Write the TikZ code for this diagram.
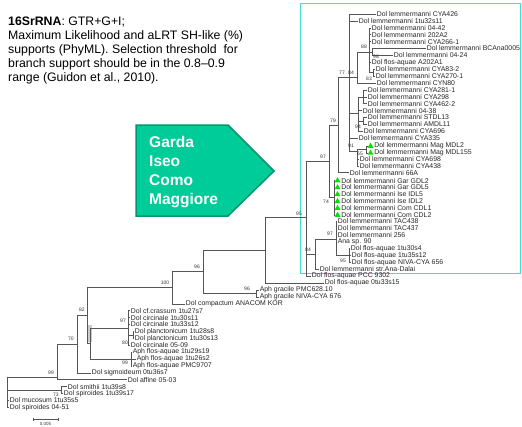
\documentclass[tikz,border=0pt]{standalone}
\usepackage{fontspec}
\setmainfont{Liberation Sans}
\usetikzlibrary{positioning,shapes.geometric}

\definecolor{branchgray}{RGB}{85,85,85}
\definecolor{boxcyan}{RGB}{64,224,208}
\definecolor{lakefill}{RGB}{0,204,153}
\definecolor{lakeedge}{RGB}{0,150,110}
\definecolor{tipgreen}{RGB}{0,225,0}

\tikzset{
  leaf/.style={anchor=west,inner sep=0.6pt,font=\fontsize{6.9}{7}\selectfont,text=black!85},
  supp/.style={inner sep=0pt,font=\fontsize{5}{5}\selectfont,text=black!80},
  br/.style={draw=branchgray,line width=0.5pt},
  tip/.style={regular polygon,regular polygon sides=3,fill=tipgreen,inner sep=0pt,minimum size=6.8pt},
}

\begin{document}
\begin{tikzpicture}[x=1pt,y=-1pt]
\useasboundingbox (0,0) rectangle (522,426);

% caption
\node[anchor=north west,inner sep=0pt,align=left,font=\fontsize{12.3}{14}\selectfont] (caption) at (8,17)
  {\textbf{16SrRNA}: GTR+G+I;\\Maximum Likelihood and aLRT SH-like (\%)\\supports (PhyML). Selection threshold~ for\\branch support should be in the 0.8--0.9\\range (Guidon et al., 2010).};

% highlighted clade
\draw[boxcyan,line width=0.9pt] (300,3) rectangle (520,273);

% lakes arrow
\draw[fill=lakefill,draw=lakeedge,line width=1.5pt] (136,125) -- (228,125) -- (274,171) -- (228,216) -- (136,216) -- cycle;
\node[anchor=north west,inner sep=0pt,align=left,text=white,font=\fontsize{15.5}{19}\selectfont\bfseries] (lakes) at (149,136)
  {Garda\\Iseo\\Como\\Maggiore};

% leaves
\node[leaf] (l1) at (376,14.0) {Dol lemmermanni CYA426};
\node[leaf] (l2) at (358,20.9) {Dol lemmermanni 1tu32s11};
\node[leaf] (l3) at (371,27.8) {Dol lemmermanni 04-42};
\node[leaf] (l4) at (371,34.7) {Dol lemmermanni 202A2};
\node[leaf] (l5) at (371,41.6) {Dol lemmermanni CYA266-1};
\node[leaf] (l6) at (426,48.5) {Dol lemmermanni BCAna0005};
\node[leaf] (l7) at (393,55.4) {Dol lemmermanni 04-24};
\node[leaf] (l8) at (371,62.3) {Dol flos-aquae A202A1};
\node[leaf] (l9) at (375,69.2) {Dol lemmermanni CYA83-2};
\node[leaf] (l10) at (375,76.1) {Dol lemmermanni CYA270-1};
\node[leaf] (l11) at (376,83.0) {Dol lemmermanni CYN80};
\node[leaf] (l12) at (367,89.9) {Dol lemmermanni CYA281-1};
\node[leaf] (l13) at (367,96.8) {Dol lemmermanni CYA298};
\node[leaf] (l14) at (367,103.7) {Dol lemmermanni CYA462-2};
\node[leaf] (l15) at (362,110.6) {Dol lemmermanni 04-38};
\node[leaf] (l16) at (367,117.5) {Dol lemmermanni STDL13};
\node[leaf] (l17) at (367,124.4) {Dol lemmermanni AMDL11};
\node[leaf] (l18) at (363,131.3) {Dol lemmermanni CYA696};
\node[leaf] (l19) at (358,138.2) {Dol lemmermanni CYA335};
\node[tip] (t20) at (370.5,146.1) {};
\node[leaf,right=0.8pt of t20] (l20) {Dol lemmermanni Mag MDL2};
\node[tip] (t21) at (370.5,153.0) {};
\node[leaf,right=0.8pt of t21] (l21) {Dol lemmermanni Mag MDL155};
\node[leaf] (l22) at (359,158.9) {Dol lemmermanni CYA698};
\node[leaf] (l23) at (359,165.8) {Dol lemmermanni CYA438};
\node[leaf] (l24) at (349,172.7) {Dol lemmermanni 66A};
\node[tip] (t25) at (337.5,180.6) {};
\node[leaf,right=0.8pt of t25] (l25) {Dol lemmermanni Gar GDL2};
\node[tip] (t26) at (337.5,187.5) {};
\node[leaf,right=0.8pt of t26] (l26) {Dol lemmermanni Gar GDL5};
\node[tip] (t27) at (337.5,194.4) {};
\node[leaf,right=0.8pt of t27] (l27) {Dol lemmermanni Ise IDL5};
\node[tip] (t28) at (337.5,201.3) {};
\node[leaf,right=0.8pt of t28] (l28) {Dol lemmermanni Ise IDL2};
\node[tip] (t29) at (337.5,208.2) {};
\node[leaf,right=0.8pt of t29] (l29) {Dol lemmermanni Com CDL1};
\node[tip] (t30) at (337.5,215.1) {};
\node[leaf,right=0.8pt of t30] (l30) {Dol lemmermanni Com CDL2};
\node[leaf] (l31) at (337,221.0) {Dol lemmermanni TAC438};
\node[leaf] (l32) at (337,227.9) {Dol lemmermanni TAC437};
\node[leaf] (l33) at (337,234.8) {Dol lemmermanni 256};
\node[leaf] (l34) at (337,241.7) {Ana sp. 90};
\node[leaf] (l35) at (350,248.6) {Dol flos-aquae 1tu30s4};
\node[leaf] (l36) at (351,255.5) {Dol flos-aquae 1tu35s12};
\node[leaf] (l37) at (351,262.4) {Dol flos-aquae NIVA-CYA 656};
\node[leaf] (l38) at (319,269.3) {Dol lemmermanni str.Ana-Dalai};
\node[leaf] (l39) at (311,276.2) {Dol flos-aquae PCC 9302};
\node[leaf] (l40) at (324,283.1) {Dol flos-aquae 0tu33s15};
\node[leaf] (l41) at (259,290.0) {Aph gracile PMC628.10};
\node[leaf] (l42) at (259,296.9) {Aph gracile NIVA-CYA 676};
\node[leaf] (l43) at (185,303.8) {Dol compactum ANACOM KOR};
\node[leaf] (l44) at (130,310.7) {Dol cf.crassum 1tu27s7};
\node[leaf] (l45) at (130,317.6) {Dol circinale 1tu30s11};
\node[leaf] (l46) at (130,324.5) {Dol circinale 1tu33s12};
\node[leaf] (l47) at (134,331.4) {Dol planctonicum 1tu28s8};
\node[leaf] (l48) at (134,338.3) {Dol planctonicum 1tu30s13};
\node[leaf] (l49) at (130,345.2) {Dol circinale 05-09};
\node[leaf] (l50) at (132,352.1) {Aph flos-aquae 1tu29s19};
\node[leaf] (l51) at (136,359.0) {Aph flos-aquae 1tu26s2};
\node[leaf] (l52) at (132,365.9) {Aph flos-aquae PMC9707};
\node[leaf] (l53) at (91,372.8) {Dol sigmoideum 0tu36s7};
\node[leaf] (l54) at (127,379.7) {Dol affine 05-03};
\node[leaf] (l55) at (67,386.6) {Dol smithii 1tu39s8};
\node[leaf] (l56) at (63,393.5) {Dol spiroides 1tu39s17};
\node[leaf] (l57) at (9,400.4) {Dol mucosum 1tu35s5};
\node[leaf] (l58) at (9,407.3) {Dol spiroides 04-51};

% inner nodes
\coordinate (root) at (7,390);
\coordinate (n73) at (61,390);
\coordinate (n99) at (57,377);
\coordinate (n70) at (77,344);
\coordinate (n82) at (87,315.5);
\coordinate (nX) at (90,343.5);
\coordinate (n97c) at (128,328);
\coordinate (n80) at (133,334.9);
\coordinate (n99b) at (131,359);
\coordinate (n100) at (172,287.6);
\coordinate (n96) at (203,271.5);
\coordinate (n96b) at (256,293.5);
\coordinate (nB) at (265,250);
\coordinate (n95) at (306,217);
\coordinate (n84c) at (315,254);
\coordinate (n97b) at (336,239);
\coordinate (n95c) at (349,255.5);
\coordinate (n97a) at (329,161);
\coordinate (n74) at (334,197);
\coordinate (n79) at (338,125);
\coordinate (n77) at (349,77);
\coordinate (n84b) at (357,77);
\coordinate (n88) at (369,52);
\coordinate (n98) at (372,52);
\coordinate (n83) at (373,72.6);
\coordinate (nG) at (358,113);
\coordinate (nG1) at (363,96.8);
\coordinate (n94) at (363,121);
\coordinate (n91) at (357,151);
\coordinate (n65) at (366,149.5);

% grey bar beside the short inner branch
\fill[black!20] (88,325) rectangle (91.5,342);

% branches
\draw[br] (root) |- (n99) (root) |- (n73) (root) |- (l57.west) (root) |- (l58.west);
\draw[br] (n73) |- (l55.west) (n73) |- (l56.west);
\draw[br] (n99) |- (n70) (n99) |- (l54.west);
\draw[br] (n70) |- (n82) (n70) |- (l53.west);
\draw[br] (n82) |- (n100) (n82) |- (nX);
\draw[br] (nX) |- (n97c) (nX) |- (n99b);
\draw[br] (n97c) |- (l44.west) (n97c) |- (l45.west) (n97c) |- (l46.west) (n97c) |- (n80) (n97c) |- (l49.west);
\draw[br] (n80) |- (l47.west) (n80) |- (l48.west);
\draw[br] (n99b) |- (l50.west) (n99b) |- (l51.west) (n99b) |- (l52.west);
\draw[br] (n100) |- (n96) (n100) |- (l43.west);
\draw[br] (n96) |- (nB) (n96) |- (n96b);
\draw[br] (n96b) |- (l41.west) (n96b) |- (l42.west);
\draw[br] (nB) |- (n95) (nB) |- (l40.west);
\draw[br] (n95) |- (n97a) (n95) |- (n84c) (n95) |- (l39.west);
\draw[br] (n84c) |- (n97b) (n84c) |- (l38.west);
\draw[br] (n97b) |- (l31.west) (n97b) |- (l32.west) (n97b) |- (l33.west) (n97b) |- (l34.west) (n97b) |- (n95c);
\draw[br] (n95c) |- (l35.west) (n95c) |- (l36.west) (n95c) |- (l37.west);
\draw[br] (n97a) |- (n79) (n97a) |- (n74);
\draw[br] (n74) |- (t25.west) (n74) |- (t26.west) (n74) |- (t27.west) (n74) |- (t28.west) (n74) |- (t29.west) (n74) |- (t30.west);
\draw[br] (n79) |- (n77) (n79) |- (l24.west);
\draw[br] (n77) |- (l1.west) (n77) |- (l2.west) (n77) -- (n84b) (n77) |- (nG) (n77) |- (l19.west) (n77) |- (n91);
\draw[br] (n84b) |- (n88) (n84b) |- (l11.west);
\draw[br] (n88) |- (l3.west) (n88) |- (l4.west) (n88) |- (l5.west) (n88) -- (n98) (n88) |- (l8.west) (n88) |- (n83);
\draw[br] (n98) |- (l6.west) (n98) |- (l7.west);
\draw[br] (n83) |- (l9.west) (n83) |- (l10.west);
\draw[br] (nG) |- (nG1) (nG) |- (l15.west) (nG) |- (n94) (nG) |- (l18.west);
\draw[br] (nG1) |- (l12.west) (nG1) |- (l13.west) (nG1) |- (l14.west);
\draw[br] (n94) |- (l16.west) (n94) |- (l17.west);
\draw[br] (n91) |- (n65) (n91) |- (l22.west) (n91) |- (l23.west);
\draw[br] (n65) |- (t20.west) (n65) |- (t21.west);

% support values
\node[supp] (s73) at (56,395) {73};
\node[supp] (s99) at (51,373) {99};
\node[supp] (s70) at (71,339) {70};
\node[supp] (s82) at (82,310) {82};
\node[supp] (s97c) at (123,321) {97};
\node[supp] (s80) at (125,343) {80};
\node[supp] (s99b) at (125,363) {99};
\node[supp] (s100) at (165,283) {100};
\node[supp] (s96) at (197,267) {96};
\node[supp] (s96b) at (247,289) {96};
\node[supp] (s95) at (299,214) {95};
\node[supp] (s84c) at (308,250) {84};
\node[supp] (s97b) at (330,234) {97};
\node[supp] (s95c) at (343,261) {95};
\node[supp] (s74) at (326,202) {74};
\node[supp] (s97a) at (323,157) {97};
\node[supp] (s79) at (333,121) {79};
\node[supp] (s77) at (342,73) {77};
\node[supp] (s84b) at (351,73) {84};
\node[supp] (s88) at (364,47) {88};
\node[supp] (s98) at (376,57) {98};
\node[supp] (s83) at (369,79) {83};
\node[supp] (s94) at (358,127) {94};
\node[supp] (s91) at (351,146) {91};
\node[supp] (s65) at (360,154) {65};

% scale bar
\coordinate (sbl) at (33,419);
\coordinate (sbr) at (58,419);
\draw[br] (sbl) -- (sbr) (sbl) ++(0,-1.5) -- ++(0,3) (sbr) ++(0,-1.5) -- ++(0,3);
\node[supp,font=\fontsize{4.5}{5}\selectfont] (sblabel) at (45.5,423.5) {0.005};
\end{tikzpicture}
\end{document}
